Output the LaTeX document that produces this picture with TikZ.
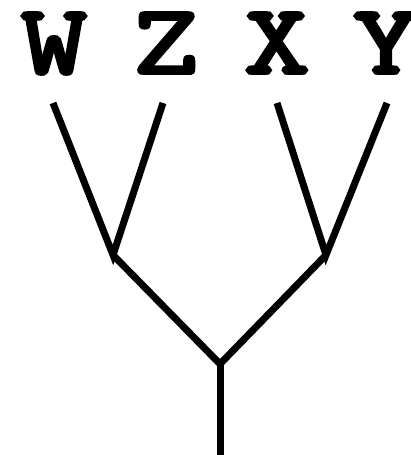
\documentclass[tikz,border=0pt]{standalone}
\usepackage{fontspec}
\newfontfamily\leaffont[FakeBold=4,FakeStretch=1.3]{Latin Modern Mono}
\begin{document}
\begin{tikzpicture}[x=1pt,y=-1pt,
  lbl/.style={anchor=base,inner sep=0pt,font=\leaffont\fontsize{98}{98}\selectfont},
  edge/.style={line width=7pt,line cap=butt,line join=miter}]
\useasboundingbox (0,0) rectangle (410,455);
\node[lbl] (W) at (54,73) {W};
\node[lbl] (Z) at (166,73) {Z};
\node[lbl] (X) at (277,73) {X};
\node[lbl] (Y) at (386,73) {Y};
\coordinate (w) at (53,103);
\coordinate (z) at (163,103);
\coordinate (x) at (277,103);
\coordinate (y) at (387,103);
\coordinate (l) at (113,255);
\coordinate (r) at (326,255);
\coordinate (root) at (220,364);
\coordinate (bot) at (220,460);
\draw[edge] (w) -- (l) -- (z);
\draw[edge] (x) -- (r) -- (y);
\draw[edge] (l) -- (root) -- (r);
\draw[edge] (root) -- (bot);
\end{tikzpicture}
\end{document}
